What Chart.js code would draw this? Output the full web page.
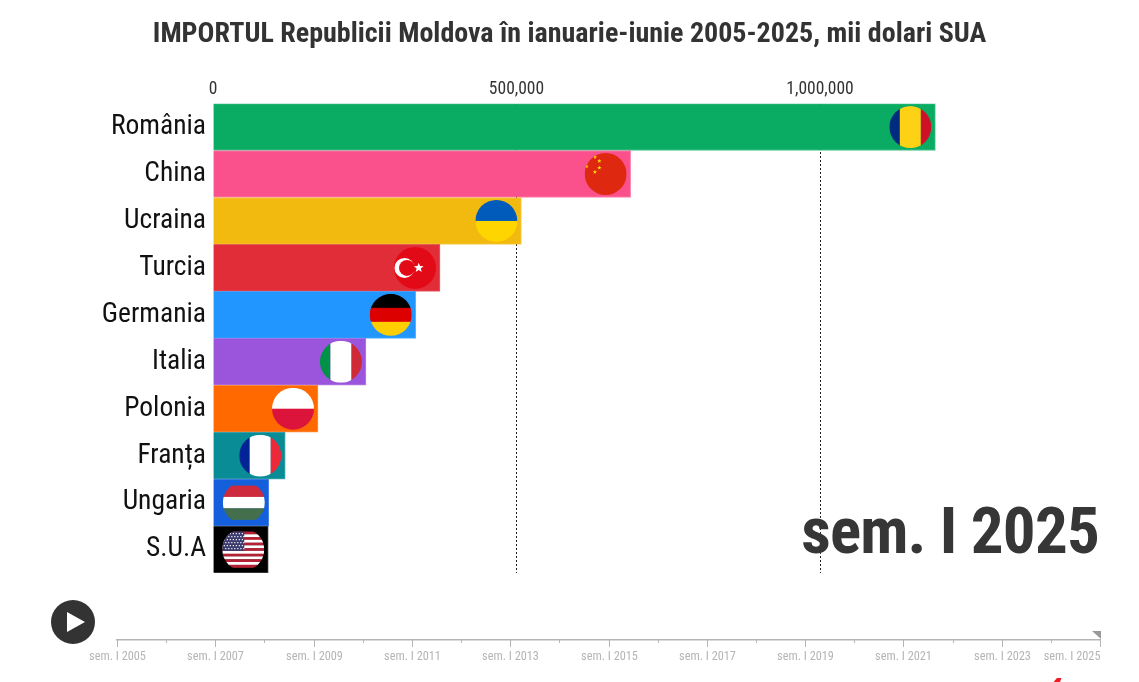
<!DOCTYPE html>
<html>
<head>
<meta charset="utf-8">
<title>Importul Republicii Moldova</title>
<script src="https://cdn.jsdelivr.net/npm/chart.js@4"></script>
<style>
    html, body { margin: 0; padding: 0; background: #fff; overflow: hidden; }
    #wrap { position: relative; width: 1139px; height: 682px; }
    #bars { position: absolute; left: 0; top: 0; }
    #timeline { position: absolute; left: 0; top: 600px; }
</style>
</head>
<body>
<div id="wrap">
    <canvas id="bars" width="1139" height="600"></canvas>
    <canvas id="timeline" width="1139" height="82"></canvas>
</div>
<script>
const chartTitle = 'IMPORTUL Republicii Moldova în ianuarie-iunie 2005-2025, mii dolari SUA';
const currentPeriod = 'sem. I 2025';
const categories = ['România', 'China', 'Ucraina', 'Turcia', 'Germania', 'Italia', 'Polonia', 'Franța', 'Ungaria', 'S.U.A'];
const imports = [1190000, 688000, 508000, 374000, 334000, 252000, 173000, 119000, 92000, 91000];
const barColors = ['#0AAC64', '#FA508C', '#F2B90F', '#E02D37', '#2196FF', '#9B55DC', '#FF6900', '#0A8C96', '#145FDC', '#000000'];
const valueTicks = [0, 500000, 1000000];
const semesters = ['sem. I 2005', 'sem. I 2006', 'sem. I 2007', 'sem. I 2008', 'sem. I 2009', 'sem. I 2010', 'sem. I 2011',
    'sem. I 2012', 'sem. I 2013', 'sem. I 2014', 'sem. I 2015', 'sem. I 2016', 'sem. I 2017', 'sem. I 2018', 'sem. I 2019',
    'sem. I 2020', 'sem. I 2021', 'sem. I 2022', 'sem. I 2023', 'sem. I 2024', 'sem. I 2025'];

const FONT = '"Roboto Condensed", Roboto';

function stripesV(ctx, x, y, r, colors) {
    const a = r / 2;
    ctx.fillStyle = colors[0]; ctx.fillRect(x - r, y - r, r - a, 2 * r);
    ctx.fillStyle = colors[1]; ctx.fillRect(x - a, y - r, 2 * a, 2 * r);
    ctx.fillStyle = colors[2]; ctx.fillRect(x + a, y - r, r - a, 2 * r);
}

function stripesH(ctx, x, y, r, colors) {
    const h = 2 * r / colors.length;
    colors.forEach((c, i) => {
        ctx.fillStyle = c;
        ctx.fillRect(x - r, y - r + i * h, 2 * r, h + 0.5);
    });
}

function star(ctx, x, y, r, color) {
    ctx.fillStyle = color;
    ctx.beginPath();
    for (let i = 0; i < 10; i++) {
        const d = i % 2 ? r * 0.42 : r;
        const a = -Math.PI / 2 + i * Math.PI / 5;
        ctx.lineTo(x + d * Math.cos(a), y + d * Math.sin(a));
    }
    ctx.closePath();
    ctx.fill();
}

const flags = {
    'România': (ctx, x, y, r) => stripesV(ctx, x, y, r, ['#002B7F', '#FCD116', '#CE1126']),
    'China': (ctx, x, y, r) => {
        ctx.fillStyle = '#DE2910';
        ctx.fillRect(x - r, y - r, 2 * r, 2 * r);
        [[-19, -7.7], [-10.7, -17], [-6.3, -13], [-6.3, -6.3], [-10.7, -2]].forEach(p => {
            star(ctx, x + p[0], y + p[1], 2.2, '#FFDE00');
        });
    },
    'Ucraina': (ctx, x, y, r) => stripesH(ctx, x, y, r, ['#005BBB', '#FFD500']),
    'Turcia': (ctx, x, y, r) => {
        ctx.fillStyle = '#E30A17';
        ctx.fillRect(x - r, y - r, 2 * r, 2 * r);
        ctx.fillStyle = '#fff';
        ctx.beginPath(); ctx.arc(x - 10.5, y, 10, 0, 2 * Math.PI); ctx.fill();
        ctx.fillStyle = '#E30A17';
        ctx.beginPath(); ctx.arc(x - 8, y, 8, 0, 2 * Math.PI); ctx.fill();
        star(ctx, x + 3.7, y, 5.2, '#fff');
    },
    'Germania': (ctx, x, y, r) => stripesH(ctx, x, y, r, ['#000000', '#DD0000', '#FFCE00']),
    'Italia': (ctx, x, y, r) => stripesV(ctx, x, y, r, ['#009246', '#FFFFFF', '#CE2B37']),
    'Polonia': (ctx, x, y, r) => stripesH(ctx, x, y, r, ['#FFFFFF', '#DC143C']),
    'Franța': (ctx, x, y, r) => stripesV(ctx, x, y, r, ['#002395', '#FFFFFF', '#ED2939']),
    'Ungaria': (ctx, x, y, r) => {
        const h = 34 / 3;
        ['#CD2A3E', '#FFFFFF', '#436F4D'].forEach((c, i) => {
            ctx.fillStyle = c;
            ctx.fillRect(x - r, y - 17 + i * h, 2 * r, h + 0.3);
        });
    },
    'S.U.A': (ctx, x, y, r) => {
        for (let i = 0; i < 13; i++) {
            ctx.fillStyle = i % 2 ? '#FFFFFF' : '#B22234';
            ctx.fillRect(x - r, y - 18 + i * 36 / 13, 2 * r, 36 / 13 + 0.3);
        }
        ctx.fillStyle = '#3C3B6E';
        ctx.fillRect(x - r, y - 18, 22, 19.4);
        ctx.fillStyle = '#fff';
        for (let row = 0; row < 6; row++) {
            for (let col = 0; col < 7; col++) {
                ctx.fillRect(x - r + 1.5 + col * 3 + (row % 2) * 1.5, y - 16.5 + row * 3, 1.2, 1.2);
            }
        }
    }
};

const barDecor = {
    id: 'barDecor',
    afterDatasetsDraw(chart) {
        const ctx = chart.ctx;
        const r = 21;
        chart.getDatasetMeta(0).data.forEach((bar, i) => {
            const cx = bar.x - 4 - r;
            ctx.save();
            ctx.beginPath();
            ctx.arc(cx, bar.y, r, 0, 2 * Math.PI);
            ctx.clip();
            flags[categories[i]](ctx, cx, bar.y, r);
            ctx.restore();
        });
    },
    afterDraw(chart) {
        const ctx = chart.ctx;
        ctx.save();
        ctx.font = 'bold 65px ' + FONT;
        ctx.letterSpacing = '-0.8px';
        ctx.fillStyle = '#363636';
        ctx.textAlign = 'right';
        ctx.fillText(currentPeriod, 1099, 553);
        ctx.restore();
    }
};

new Chart(document.getElementById('bars'), {
    type: 'bar',
    plugins: [barDecor],
    data: {
        labels: categories,
        datasets: [{
            data: imports,
            backgroundColor: barColors,
            borderColor: barColors.map(c => c + 'bb'),
            borderWidth: 1,
            barPercentage: 1,
            categoryPercentage: 1
        }]
    },
    options: {
        indexAxis: 'y',
        responsive: false,
        animation: false,
        layout: { padding: { bottom: 27 } },
        plugins: {
            legend: { display: false },
            tooltip: { enabled: false },
            title: {
                display: true,
                text: chartTitle,
                color: '#333333',
                font: { family: FONT, size: 28, weight: 'bold' },
                padding: { top: 18, bottom: 12 }
            }
        },
        scales: {
            x: {
                position: 'top',
                min: 0,
                max: 1525500,
                afterFit(scale) { scale.height = 40; },
                afterBuildTicks(scale) { scale.ticks = valueTicks.map(v => ({ value: v })); },
                border: { display: false, dash: [2, 2] },
                grid: {
                    drawTicks: false,
                    color: ctx => ctx.tick && ctx.tick.value === 0 ? 'rgba(0,0,0,0)' : '#222222',
                    lineWidth: 1
                },
                ticks: {
                    padding: 3,
                    color: '#333333',
                    font: { family: FONT, size: 17.5 },
                    maxRotation: 0,
                    callback: v => v.toLocaleString('en-US')
                }
            },
            y: {
                afterFit(scale) { scale.width = 213; },
                border: { display: false },
                grid: { display: false, drawTicks: false },
                ticks: {
                    padding: 7,
                    color: '#111111',
                    autoSkip: false,
                    font: { family: FONT, size: 27.5 }
                }
            }
        }
    }
});

const timelineDecor = {
    id: 'timelineDecor',
    afterDraw(chart) {
        const ctx = chart.ctx;
        const x = chart.scales.x;
        const top = 40;
        ctx.strokeStyle = '#b5b5b5';
        ctx.lineWidth = 1;
        ctx.font = '12.3px ' + FONT;
        semesters.forEach((label, i) => {
            const px = Math.round(x.getPixelForValue(i)) + 0.5;
            ctx.beginPath();
            ctx.moveTo(px, top);
            ctx.lineTo(px, top + (i % 2 ? 3 : 7));
            ctx.stroke();
            if (i % 2 === 0) {
                ctx.fillStyle = '#b5b5b5';
                ctx.textAlign = i === semesters.length - 1 ? 'right' : 'center';
                ctx.fillText(label, px, 60);
            }
        });

        // position marker
        const end = x.getPixelForValue(semesters.length - 1);
        ctx.fillStyle = '#999999';
        ctx.beginPath();
        ctx.moveTo(end - 8, 31);
        ctx.lineTo(end + 1, 31);
        ctx.lineTo(end + 1, 39);
        ctx.closePath();
        ctx.fill();

        // play button
        ctx.fillStyle = '#333333';
        ctx.beginPath();
        ctx.arc(73, 22, 22, 0, 2 * Math.PI);
        ctx.fill();
        ctx.fillStyle = '#ffffff';
        ctx.beginPath();
        ctx.moveTo(67, 12);
        ctx.lineTo(85, 22);
        ctx.lineTo(67, 32);
        ctx.closePath();
        ctx.fill();

        // top of the logo cut by the window edge
        ctx.fillStyle = '#ee1c25';
        ctx.beginPath();
        ctx.moveTo(1057, 78);
        ctx.lineTo(1061.5, 78);
        ctx.lineTo(1060, 82);
        ctx.lineTo(1053.5, 82);
        ctx.closePath();
        ctx.fill();
    }
};

new Chart(document.getElementById('timeline'), {
    type: 'line',
    plugins: [timelineDecor],
    data: { labels: semesters, datasets: [] },
    options: {
        responsive: false,
        animation: false,
        layout: { padding: { left: 117, right: 39 } },
        plugins: { legend: { display: false }, tooltip: { enabled: false } },
        scales: {
            x: {
                afterFit(scale) { scale.height = 42; },
                border: { display: true, color: '#b5b5b5', width: 1.5 },
                grid: { display: false },
                ticks: { display: false, autoSkip: false }
            },
            y: { display: false }
        }
    }
});
</script>
</body>
</html>
